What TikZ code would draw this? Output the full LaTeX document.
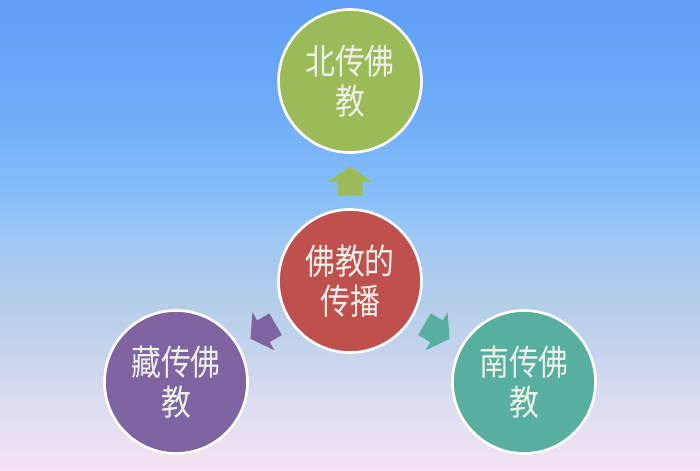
\documentclass[tikz,border=0pt]{standalone}
\usepackage{fontspec}
\newfontfamily\cjk[FakeStretch=0.85]{Noto Sans CJK SC}
\usetikzlibrary{calc}

\definecolor{bgtop}{HTML}{5F9EF8}
\definecolor{bgA}{HTML}{70ADF8}
\definecolor{bgB}{HTML}{88C0FA}
\definecolor{bgmid}{HTML}{9EC8F5}
\definecolor{bgC}{HTML}{B4CDEA}
\definecolor{bgD}{HTML}{C4D4EC}
\definecolor{bgE}{HTML}{DCDCF0}
\definecolor{bgbot}{HTML}{F4E4F4}
\definecolor{cgreen}{HTML}{9BBB59}
\definecolor{cred}{HTML}{C0504D}
\definecolor{cpurple}{HTML}{8064A2}
\definecolor{cteal}{HTML}{58AE9F}
\definecolor{textpale}{HTML}{EEF1EA}

\pgfdeclareverticalshading{skyshade}{100bp}{color(0bp)=(bgbot); color(25bp)=(bgbot);
   color(32.4bp)=(bgE); color(37.8bp)=(bgD); color(43.1bp)=(bgC); color(50bp)=(bgmid);
   color(53.7bp)=(bgB); color(62.6bp)=(bgA); color(75bp)=(bgtop); color(100bp)=(bgtop)}

% block arrow: colour, position, rotation
\newcommand{\blockarrow}[3]{%
   \fill[#1, shift={#2}, rotate=#3] (-0.25,-0.29) -- (0.25,-0.29) -- (0.25,-0.01)
      -- (0.44,-0.01) -- (0,0.29) -- (-0.44,-0.01) -- (-0.25,-0.01) -- cycle;}

\begin{document}
\begin{tikzpicture}[
   circ/.style={circle, draw=white, line width=1.5pt, minimum size=2.86cm,
      inner sep=0pt, align=center, text=textpale,
      font=\cjk\fontsize{20}{23}\selectfont}
   ]
   \shade[shading=skyshade] (0,0) rectangle (14,9.4);
   \useasboundingbox (0,0) rectangle (14,9.4);

   \node[circ, fill=cred] (chuanbo) at (7,3.78) {佛教的\\传播};
   \node[circ, fill=cgreen] (bei) at (7,7.78) {北传佛\\教};
   \node[circ, fill=cpurple] (zang) at (3.52,1.76) {藏传佛\\教};
   \node[circ, fill=cteal] (nan) at (10.48,1.76) {南传佛\\教};

   \blockarrow{cgreen}{($(chuanbo)!0.5!(bei)$)}{0}
   \blockarrow{cpurple}{($(chuanbo)!0.5!(zang)$)}{120}
   \blockarrow{cteal}{($(chuanbo)!0.5!(nan)$)}{-120}
\end{tikzpicture}
\end{document}
